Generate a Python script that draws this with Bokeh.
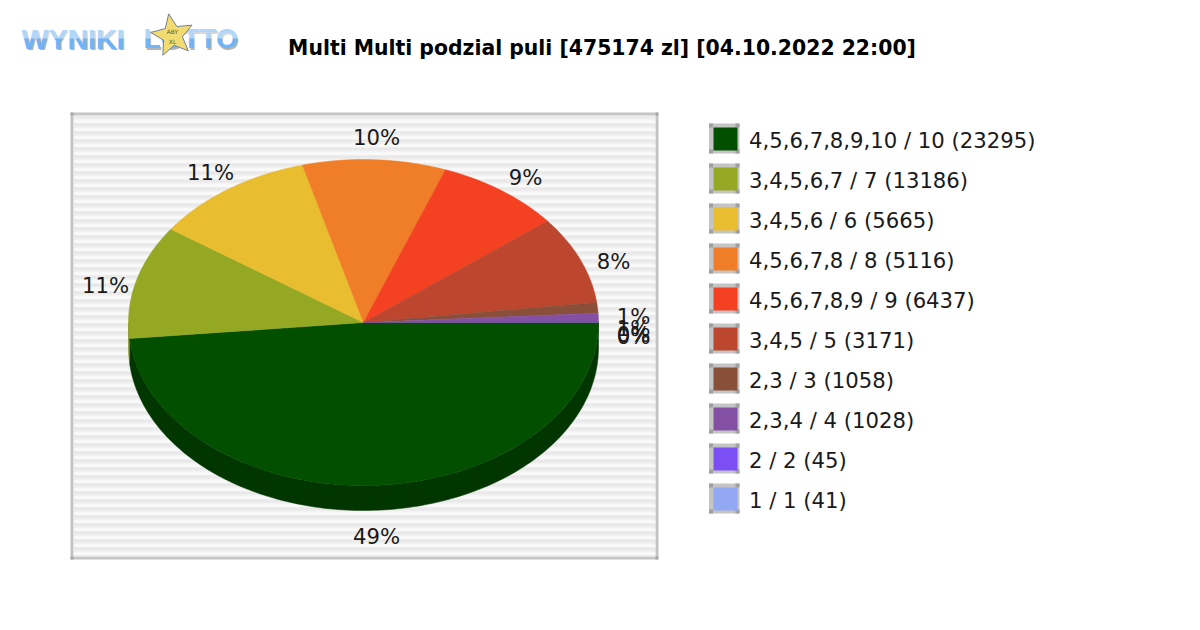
import numpy as np
from bokeh.plotting import figure
from bokeh.models import Range1d
from bokeh.core.properties import value
from bokeh.embed import file_html
from bokeh.resources import INLINE

title = "Multi Multi podzial puli [475174 zl] [04.10.2022 22:00]"
legend_labels = ["4,5,6,7,8,9,10 / 10 (23295)", "3,4,5,6,7 / 7 (13186)", "3,4,5,6 / 6 (5665)",
                 "4,5,6,7,8 / 8 (5116)", "4,5,6,7,8,9 / 9 (6437)", "3,4,5 / 5 (3171)",
                 "2,3 / 3 (1058)", "2,3,4 / 4 (1028)", "2 / 2 (45)", "1 / 1 (41)"]
shares = [48.44, 11.28, 11.11, 9.86, 8.64, 8.72, 1.06, 0.89, 0.01, 0.01]
pct_labels = ["49%", "11%", "11%", "10%", "9%", "8%", "1%", "1%", "0%", "0%"]
colors = ["#034f00", "#95a823", "#e8bd2f", "#f07e28", "#f44122", "#bc472e", "#8a4f38", "#8450a4", "#7c4ff5", "#92a8f5"]
side_colors = ["#023600", "#76851b", "#b89625", "#be6420", "#c1341b", "#953824", "#6d3e2c", "#693f82", "#623ec2", "#7485c2"]
label_x = [376, 105, 210, 376, 525, 613, 633, 633, 633, 633]
label_y = [535.5, 284.5, 171.5, 136.5, 176.5, 260.5, 315.5, 327.5, 333.5, 335.5]

CX, CY, RX, RY, DEPTH = 363, 322, 235, 163, 25
PX0, PX1, PY0, PY1 = 70, 658, 112, 559
FRAME = "#c4c4c4"
FONT = "DejaVu Sans"

p = figure(width=1184, height=614, output_backend="svg", toolbar_location=None,
           x_range=Range1d(0, 1184), y_range=Range1d(614, 0),
           x_axis_type=None, y_axis_type=None, min_border=0, outline_line_color=None)
p.grid.visible = False


def txt(x, y, s, size, color="#1a1a1a", style="normal", align="left", font=FONT):
    p.text([x], [y], text=[s], text_font=value(font), text_font_size=f"{size}px", text_color=color,
           text_font_style=style, text_align=align, text_baseline="middle")


def rect(x0, x1, y0, y1, color, alpha=1.0):
    p.quad(left=[x0], right=[x1], top=[y0], bottom=[y1], fill_color=color, fill_alpha=alpha, line_color=None)


# panel
rect(PX0, PX1, PY0, PY1, FRAME)
rect(PX0 + 3, PX1 - 3, PY0 + 3, PY1 - 3, "#f3f3f3")
ys = np.arange(PY0 + 3, PY1 - 3, 8)
p.quad(left=PX0 + 3, right=PX1 - 3, top=ys, bottom=np.minimum(ys + 3, PY1 - 3), fill_color="#e9e9e9", line_color=None)
ys2 = ys[:-1] + 5
p.quad(left=PX0 + 3, right=PX1 - 3, top=ys2, bottom=ys2 + 2, fill_color="#fbfbfb", line_color=None)
for x, y in [(PX0, PY0), (PX1 - 3, PY0), (PX0, PY1 - 3), (PX1 - 3, PY1 - 3)]:
    rect(x, x + 3, y, y + 3, "#a8a8a8")

# pie: the first slice runs clockwise from east, the others follow it
fr = np.array(shares) / sum(shares) * 360.0
ends = 360.0 - np.concatenate([[0], np.cumsum(fr)[:-1]])
starts = ends - fr

for a0, a1, c in zip(starts, ends, side_colors):
    lo, hi = max(a0, 180), min(a1, 360)
    if hi <= lo:
        continue
    t = np.radians(np.linspace(lo, hi, 160))
    x = CX + RX * np.cos(t)
    y = CY - RY * np.sin(t)
    p.patch(np.r_[x, x[::-1]], np.r_[y, y[::-1] + DEPTH], fill_color=c, line_color=c, line_width=0.5)

for a0, a1, c in zip(starts, ends, colors):
    t = np.radians(np.linspace(a0, a1, max(int(a1 - a0) * 2, 6)))
    thin = (a1 - a0) < 0.5
    p.patch(np.r_[CX, CX + RX * np.cos(t)], np.r_[CY, CY - RY * np.sin(t)], fill_color=c,
            line_color=None if thin else c, line_width=0.5)

for x, y, s in zip(label_x, label_y, pct_labels):
    txt(x, y, s, 21.2, align="center")

# legend
for i, (s, c) in enumerate(zip(legend_labels, colors)):
    y0 = 123 + 40 * i
    rect(708.5, 739, y0, y0 + 30, FRAME)
    for xx, yy in [(708.5, y0), (735, y0), (708.5, y0 + 26), (735, y0 + 26)]:
        rect(xx, xx + 4, yy, yy + 4, "#a0a0a0")
    rect(713, 737, y0 + 4, y0 + 27, c)
    txt(748.5, y0 + 17, s, 21.2)

txt(601.5, 47.5, title, 20.4, color="#000000", style="bold", align="center")

# logo: two-tone blue lettering with a grey shadow
for dx, col in [(1.5, "#b4b4b4"), (0, "#6fb4fa")]:
    txt(21 + dx, 38 + dx, "WYNIKI", 28.5, color=col, style="bold", font="Liberation Sans")
    txt(143 + dx, 38 + dx, "LOTTO", 28, color=col, style="bold", font="Liberation Sans")
rect(18, 245, 20, 38, "#ffffff", 0.45)
star_t = np.radians(np.arange(0, 360, 36) + 100)
star_r = np.where(np.arange(10) % 2 == 0, 22, 10)
p.patch(172 + star_r * np.cos(star_t), 35 - star_r * np.sin(star_t), fill_color="#f2dc72", line_color="#6f8296", line_width=1)
txt(172, 31, "ABY", 6, color="#6b5a20", align="center")
txt(172, 41, "XL", 6, color="#6b5a20", align="center")

open("out.html", "w").write(file_html(p, INLINE))
